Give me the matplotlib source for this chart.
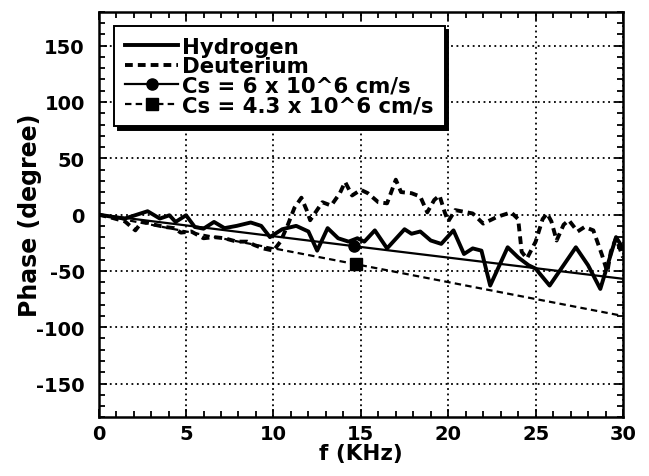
import numpy as np
import matplotlib
matplotlib.use('Agg')
import matplotlib.pyplot as plt
from matplotlib.ticker import MultipleLocator

plt.rcParams['font.family'] = ['DejaVu Sans']
plt.rcParams['font.weight'] = 'bold'
plt.rcParams['axes.unicode_minus'] = False

# -------------------------------------------------------
# Measured phase (read off the figure)
h_freq = [0, 0.8, 1.5, 2.2, 2.8, 3.5, 4.05, 4.4, 5.0, 5.5, 6.0, 6.6, 7.2, 7.9,
          8.7, 9.3, 9.8, 10.2, 10.5, 11.3, 12.0, 12.5, 13.1, 13.7, 14.3, 14.8,
          15.2, 15.8, 16.5, 17.5, 17.9, 18.4, 19.0, 19.6, 20.3, 20.9, 21.4,
          21.9, 22.4, 23.4, 24.0, 24.6, 25.0, 25.8, 27.3, 28.0, 28.7, 29.6, 30.0]
h_phase = [0, -2, -3.5, 0, 3, -3.5, -0.6, -6.5, -0.6, -11, -12.5, -6.5, -12,
           -10, -7, -10, -20, -16, -13, -10, -15, -32, -12, -21, -24, -21,
           -24, -14, -30, -13, -17, -15, -23, -26, -14, -35, -30,
           -32, -63, -29, -38, -45, -48, -63, -29, -45, -66, -20, -30]

d_freq = [0, 0.8, 1.5, 2.1, 2.5, 3.2, 3.8, 4.3, 4.7, 5.3, 6.0, 6.6, 7.2, 7.9,
          8.5, 8.9, 9.4, 10.0, 10.4, 10.8, 11.2, 11.6, 11.9, 12.1, 12.8, 13.3,
          13.8, 14.1, 14.5, 15.0, 15.4, 16.0, 16.5, 17.0, 17.3, 17.9, 18.4,
          18.8, 19.2, 19.5, 19.8, 20.0, 20.4, 21.4, 22.0, 22.8, 23.6, 24.0,
          24.2, 24.5, 25.0, 25.4, 25.65, 25.9, 26.2, 26.6, 26.9, 27.4, 27.8,
          28.3, 28.8, 29.1, 29.3, 29.6, 30.0]
d_phase = [0, -3, -6, -14, -6, -9, -11, -12, -16, -15, -21, -20, -21, -24,
           -24, -27, -30, -32, -24, -10, 6, 15, 4, -5, 11, 8,
           19, 29, 17, 22, 19, 11, 10, 31, 20, 19, 16,
           2, 13, 17, 2, -6, 4, 1, -8, -2, 2, -4,
           -33, -39, -24, -4, 1, -6, -23, -9, -5, -15, -11,
           -14, -36, -51, -33, -21, -38]

# Model lines for two sound speeds (marker at the middle point)
cs6_freq = [0, 14.6, 30]
cs6_phase = [0, -28, -57]
cs43_freq = [0, 14.7, 30]
cs43_phase = [0, -44, -90]

# -------------------------------------------------------
fig = plt.figure(figsize=(6.49, 4.77), dpi=100)
ax = fig.add_axes([0.152, 0.123, 0.808, 0.850])

ax.plot(h_freq, h_phase, '-', color='black', lw=2.8, label='Hydrogen')
ax.plot(d_freq, d_phase, color='black', lw=2.8, linestyle=(0, (2.0, 1.3)),
        label='Deuterium')
ax.plot(cs6_freq, cs6_phase, '-', color='black', lw=1.6, marker='o',
        markersize=8, markevery=[1], label='Cs = 6 x 10^6 cm/s')
ax.plot(cs43_freq, cs43_phase, color='black', lw=1.6, linestyle=(0, (2.9, 1.9)),
        marker='s', markersize=8, markevery=[1], label='Cs = 4.3 x 10^6 cm/s')

ax.set_xlim(0, 30)
ax.set_ylim(-180, 180)
ax.xaxis.set_major_locator(MultipleLocator(5))
ax.xaxis.set_minor_locator(MultipleLocator(1))
ax.yaxis.set_minor_locator(MultipleLocator(10))
ax.set_yticks([-150, -100, -50, 0, 50, 100, 150])

ax.tick_params(which='both', direction='in', top=True, right=True,
               width=1.3, color='black')
ax.tick_params(which='major', length=6, labelsize=14)
ax.tick_params(which='minor', length=4)
ax.tick_params(axis='y', which='major', pad=10)
ax.tick_params(axis='x', which='major', pad=5)
for lab in ax.get_xticklabels() + ax.get_yticklabels():
    lab.set_fontweight('bold')
for sp in ax.spines.values():
    sp.set_linewidth(1.8)

ax.grid(True, which='major', color='black', linestyle=(0, (1, 2)), lw=1.3)

ax.set_xlabel('f (KHz)', fontsize=15.5, fontweight='bold', labelpad=0)
ax.set_ylabel('Phase (degree)', fontsize=17, fontweight='bold', labelpad=-4)

leg = ax.legend(loc='upper left', bbox_to_anchor=(0.03, 0.965),
                prop={'weight': 'bold', 'size': 15.3}, frameon=True, fancybox=False,
                shadow={'color': 'black', 'alpha': 1, 'ox': 2.5, 'oy': -2.5},
                handlelength=2.5, handletextpad=0.2, labelspacing=-0.02,
                borderpad=0.5, borderaxespad=0)
leg.get_frame().set_edgecolor('black')
leg.get_frame().set_linewidth(1.4)
leg.get_frame().set_alpha(1)

fig.savefig('out.png', dpi=100)
